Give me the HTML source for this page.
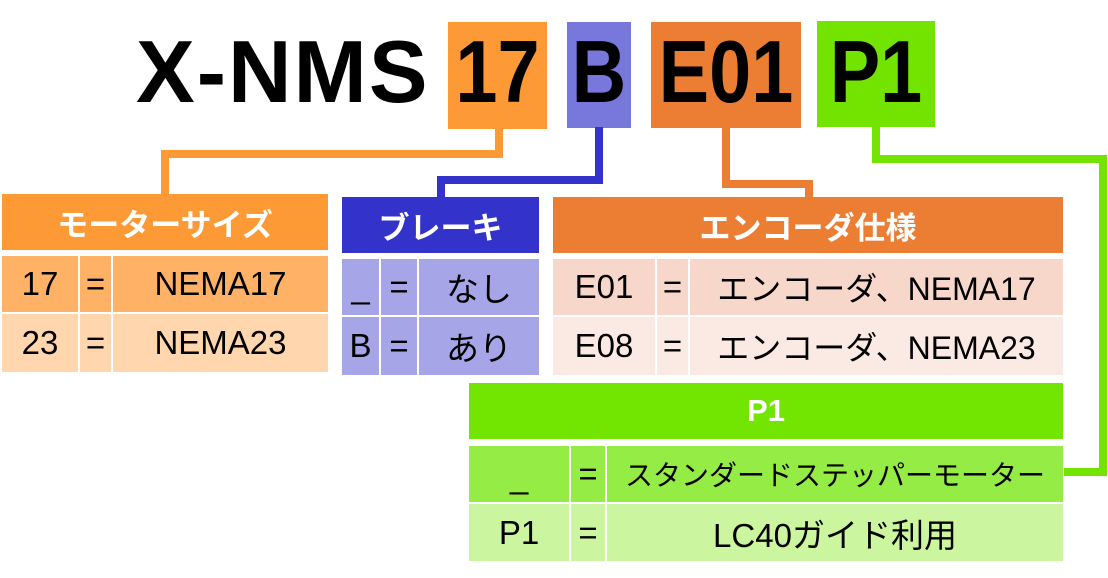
<!DOCTYPE html>
<html><head><meta charset="utf-8"><style>
*{margin:0;padding:0;box-sizing:border-box}
body{width:1108px;height:578px;background:#fff;position:relative;overflow:hidden;font-family:"Liberation Sans","Noto Sans CJK JP",sans-serif}
div{position:absolute}
.c{display:flex;align-items:center;justify-content:center;color:#000;font-size:33px;white-space:nowrap}
.h{color:#fff;font-weight:bold;font-size:31px}
.bt{font-weight:bold;font-size:88px;line-height:88px;color:#000;text-align:center;white-space:nowrap;top:28px;transform:scaleX(0.86)}
</style></head><body>
<div class="bt" style="left:136px;width:290px;transform:none;letter-spacing:2px;text-align:left">X-NMS</div>
<div style="left:448px;top:22px;width:99px;height:107px;background:#FE9A36"></div>
<div style="left:567px;top:22px;width:64px;height:106px;background:#7878DC"></div>
<div style="left:651px;top:22px;width:150px;height:106px;background:#EC7E33"></div>
<div style="left:817px;top:21px;width:118px;height:106px;background:#72E400"></div>
<div class="bt" style="left:448px;width:99px">17</div>
<div class="bt" style="left:559px;width:80px">B</div>
<div class="bt" style="left:641px;width:170px">E01</div>
<div class="bt" style="left:816px;width:120px">P1</div>

<!-- connectors -->
<div style="left:495px;top:128px;width:8px;height:30px;background:#FE9A36"></div>
<div style="left:161px;top:150px;width:342px;height:8px;background:#FE9A36"></div>
<div style="left:161px;top:150px;width:8px;height:45px;background:#FE9A36"></div>

<div style="left:595px;top:127px;width:8px;height:57px;background:#3333CC"></div>
<div style="left:437px;top:176px;width:166px;height:8px;background:#3333CC"></div>
<div style="left:437px;top:176px;width:8px;height:22px;background:#3333CC"></div>

<div style="left:722px;top:127px;width:8px;height:61px;background:#EC7E33"></div>
<div style="left:722px;top:180px;width:91px;height:8px;background:#EC7E33"></div>
<div style="left:805px;top:180px;width:8px;height:18px;background:#EC7E33"></div>

<div style="left:872px;top:126px;width:8px;height:37px;background:#72E400"></div>
<div style="left:872px;top:155px;width:235px;height:8px;background:#72E400"></div>
<div style="left:1099px;top:155px;width:8px;height:321px;background:#72E400"></div>
<div style="left:1064px;top:468px;width:43px;height:8px;background:#72E400"></div>

<!-- motor size -->
<div class="c h" style="left:2px;top:194px;width:326px;height:56px;background:#FE9A36">モーターサイズ</div>
<div class="c" style="left:2px;top:256px;width:76px;height:56px;background:#FFB266">17</div>
<div class="c" style="left:80px;top:256px;width:31px;height:56px;background:#FFB266">=</div>
<div class="c" style="left:113px;top:256px;width:215px;height:56px;background:#FFB266">NEMA17</div>
<div class="c" style="left:2px;top:314px;width:76px;height:58px;background:#FFD6AE">23</div>
<div class="c" style="left:80px;top:314px;width:31px;height:58px;background:#FFD6AE">=</div>
<div class="c" style="left:113px;top:314px;width:215px;height:58px;background:#FFD6AE">NEMA23</div>

<!-- brake -->
<div class="c h" style="left:342px;top:197px;width:197px;height:56px;background:#3333CC">ブレーキ</div>
<div class="c" style="left:342px;top:259px;width:37px;height:56px;background:#A5A5E8">_</div>
<div class="c" style="left:381px;top:259px;width:36px;height:56px;background:#A5A5E8">=</div>
<div class="c" style="left:419px;top:259px;width:120px;height:56px;background:#A5A5E8">なし</div>
<div class="c" style="left:342px;top:317px;width:37px;height:58px;background:#A5A5E8">B</div>
<div class="c" style="left:381px;top:317px;width:36px;height:58px;background:#A5A5E8">=</div>
<div class="c" style="left:419px;top:317px;width:120px;height:58px;background:#A5A5E8">あり</div>

<!-- encoder -->
<div class="c h" style="left:553px;top:197px;width:510px;height:56px;background:#EC7E33">エンコーダ仕様</div>
<div class="c" style="left:553px;top:259px;width:102px;height:56px;background:#F8D7CB">E01</div>
<div class="c" style="left:657px;top:259px;width:31px;height:56px;background:#F8D7CB">=</div>
<div class="c" style="left:690px;top:259px;width:373px;height:56px;background:#F8D7CB;font-size:32px">エンコーダ、NEMA17</div>
<div class="c" style="left:553px;top:317px;width:102px;height:58px;background:#FBEAE4">E08</div>
<div class="c" style="left:657px;top:317px;width:31px;height:58px;background:#FBEAE4">=</div>
<div class="c" style="left:690px;top:317px;width:373px;height:58px;background:#FBEAE4;font-size:32px">エンコーダ、NEMA23</div>

<!-- P1 -->
<div class="c h" style="left:469px;top:383px;width:594px;height:56px;background:#72E600">P1</div>
<div class="c" style="left:469px;top:446px;width:100px;height:56px;background:#95EC44;align-items:flex-end;padding-bottom:6px">_</div>
<div class="c" style="left:571px;top:446px;width:34px;height:56px;background:#95EC44">=</div>
<div class="c" style="left:607px;top:446px;width:456px;height:56px;background:#95EC44;font-size:28px">スタンダードステッパーモーター</div>
<div class="c" style="left:469px;top:504px;width:100px;height:57px;background:#CBF59F">P1</div>
<div class="c" style="left:571px;top:504px;width:34px;height:57px;background:#CBF59F">=</div>
<div class="c" style="left:607px;top:504px;width:456px;height:57px;background:#CBF59F">LC40ガイド利用</div>
</body></html>
